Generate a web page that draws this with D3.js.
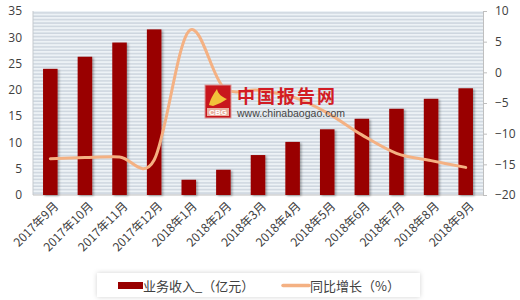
<!doctype html>
<html lang="zh">
<head>
<meta charset="utf-8">
<script src="https://d3js.org/d3.v7.min.js"></script>
<style>
  body { margin: 0; background: #fff; }
  svg { font-family: "Noto Sans CJK SC", "Noto Sans", sans-serif; }
</style>
</head>
<body>
<div id="chart"></div>
<script>
// data
var months = ["2017年9月", "2017年10月", "2017年11月", "2017年12月", "2018年1月", "2018年2月",
              "2018年3月", "2018年4月", "2018年5月", "2018年6月", "2018年7月", "2018年8月", "2018年9月"];
var revenue = [24.0, 26.3, 29.0, 31.5, 2.9, 4.8, 7.6, 10.1, 12.5, 14.5, 16.4, 18.3, 20.3];
var growth = [-14.1, -13.9, -13.8, -14.3, 6.7, -2.4, -2.9, -4.0, -6.6, -10.2, -13.2, -14.4, -15.5];
var leftTicks = [0, 5, 10, 15, 20, 25, 30, 35];
var rightTicks = [-20, -15, -10, -5, 0, 5, 10];
var legendNames = ["业务收入_（亿元）", "同比增长（%）"];

var width = 520, height = 300;
var margin = {top: 11, right: 37, bottom: 105, left: 33};

var svg = d3.select("#chart").append("svg")
    .attr("width", width)
    .attr("height", height);

var defs = svg.append("defs");

// striped plot background
var pat = defs.append("pattern")
    .attr("id", "stripes")
    .attr("patternUnits", "userSpaceOnUse")
    .attr("width", 8)
    .attr("height", 3.4);
pat.append("rect").attr("width", 8).attr("height", 3.4).attr("fill", "#edf2f6");
pat.append("rect").attr("y", 2).attr("width", 8).attr("height", 1.3).attr("fill", "#c9d2db");

var shadow = defs.append("filter").attr("id", "shadow")
    .attr("x", "-30%").attr("y", "-30%").attr("width", "160%").attr("height", "160%");
shadow.append("feDropShadow")
    .attr("dx", 1.5).attr("dy", 1)
    .attr("stdDeviation", 1)
    .attr("flood-color", "#000")
    .attr("flood-opacity", 0.35);

var legendShadow = defs.append("filter").attr("id", "lshadow")
    .attr("x", "-10%").attr("y", "-50%").attr("width", "120%").attr("height", "200%");
legendShadow.append("feDropShadow")
    .attr("dx", 0).attr("dy", 0)
    .attr("stdDeviation", 2.5)
    .attr("flood-color", "#000")
    .attr("flood-opacity", 0.18);

var x = d3.scaleBand()
    .domain(months)
    .range([margin.left, width - margin.right])
    .paddingInner(0.58)
    .paddingOuter(0.29);

var yL = d3.scaleLinear().domain([0, 35]).range([height - margin.bottom, margin.top]);
var yR = d3.scaleLinear().domain([-20, 10]).range([height - margin.bottom, margin.top]);

// plot background
svg.append("rect")
    .attr("x", margin.left)
    .attr("y", margin.top)
    .attr("width", width - margin.right - margin.left)
    .attr("height", height - margin.bottom - margin.top)
    .attr("fill", "url(#stripes)");

svg.append("line")
    .attr("x1", margin.left).attr("x2", margin.left)
    .attr("y1", margin.top).attr("y2", height - margin.bottom)
    .attr("stroke", "#c4c9ce");

// left axis (labels only)
var gLeft = svg.append("g")
    .attr("transform", "translate(" + margin.left + ",0)")
    .call(d3.axisLeft(yL).tickValues(leftTicks).tickSize(0).tickPadding(11));
gLeft.select(".domain").remove();

// right axis
var gRight = svg.append("g")
    .attr("transform", "translate(" + (width - margin.right) + ",0)")
    .call(d3.axisRight(yR).tickValues(rightTicks).tickSize(4).tickPadding(8));
gRight.select(".domain").attr("stroke", "#bfbfbf");
gRight.selectAll(".tick line").attr("stroke", "#bfbfbf");

[gLeft, gRight].forEach(function(g) {
    g.selectAll("text")
        .attr("fill", "#404040")
        .style("font-size", "12px")
        .style("font-family", "'Open Sans', 'Liberation Sans', sans-serif");
});

// bottom axis line
svg.append("line")
    .attr("x1", margin.left).attr("x2", width - margin.right)
    .attr("y1", height - margin.bottom).attr("y2", height - margin.bottom)
    .attr("stroke", "#bfbfbf");

// bars
svg.append("g")
    .selectAll("rect")
    .data(revenue)
    .join("rect")
    .attr("x", (d, i) => x(months[i]))
    .attr("y", d => yL(d))
    .attr("width", x.bandwidth())
    .attr("height", d => yL(0) - yL(d))
    .attr("fill", "#990000")
    .attr("filter", "url(#shadow)");

// growth line
var line = d3.line()
    .x((d, i) => x(months[i]) + x.bandwidth() / 2)
    .y(d => yR(d))
    .curve(d3.curveCatmullRom.alpha(0));

svg.append("path")
    .datum(growth)
    .attr("d", line)
    .attr("fill", "none")
    .attr("stroke", "#f4b183")
    .attr("stroke-width", 3)
    .attr("stroke-linecap", "round");

// watermark (sits above the line)
var wm = svg.append("g").attr("transform", "translate(205,85)");
wm.append("rect")
    .attr("width", 26).attr("height", 33)
    .attr("fill", "#c8161d").attr("stroke", "#d99a9a");
wm.append("path")
    .attr("d", "M4,20 C6,12 10,7 12,4 C13,9 17,12 22,14 C18,17 13,19 8,21 Z")
    .attr("fill", "#f2c23a");
wm.append("rect")
    .attr("x", 2).attr("y", 23)
    .attr("width", 22).attr("height", 8)
    .attr("fill", "#e8b0a0");
wm.append("text")
    .attr("x", 13).attr("y", 30)
    .attr("text-anchor", "middle")
    .attr("fill", "#fff")
    .style("font-size", "8px")
    .style("font-weight", "bold")
    .style("font-family", "'Liberation Sans', sans-serif")
    .text("CBG");
wm.append("text")
    .attr("x", 32).attr("y", 18)
    .attr("fill", "#d21c24")
    .style("font-size", "18px")
    .style("font-weight", "bold")
    .style("letter-spacing", "2px")
    .text("中国报告网");
wm.append("text")
    .attr("x", 32).attr("y", 32)
    .attr("fill", "#444")
    .style("font-size", "10.5px")
    .style("font-family", "'Liberation Sans', sans-serif")
    .text("www.chinabaogao.com");

// x labels
svg.append("g")
    .selectAll("text")
    .data(months)
    .join("text")
    .attr("transform", d => "translate(" + (x(d) + x.bandwidth() / 2 + 6) + "," + (height - margin.bottom + 9) + ") rotate(-45)")
    .attr("text-anchor", "end")
    .attr("dy", "0.35em")
    .attr("fill", "#404040")
    .style("font-size", "12px")
    .text(d => d);

// legend
var lg = svg.append("g").attr("transform", "translate(97,273)");
lg.append("rect")
    .attr("width", 323).attr("height", 24)
    .attr("fill", "#fff")
    .attr("filter", "url(#lshadow)");
lg.append("rect")
    .attr("x", 21).attr("y", 9)
    .attr("width", 25).attr("height", 7)
    .attr("fill", "#990000");
lg.append("text")
    .attr("x", 46).attr("y", 13)
    .attr("dy", "0.35em")
    .attr("fill", "#404040")
    .style("font-size", "13px")
    .text(legendNames[0]);
lg.append("line")
    .attr("x1", 186).attr("x2", 212)
    .attr("y1", 12.5).attr("y2", 12.5)
    .attr("stroke", "#f4b183")
    .attr("stroke-width", 3.5)
    .attr("stroke-linecap", "round");
lg.append("text")
    .attr("x", 213).attr("y", 13)
    .attr("dy", "0.35em")
    .attr("fill", "#404040")
    .style("font-size", "13px")
    .text(legendNames[1]);
</script>
</body>
</html>
